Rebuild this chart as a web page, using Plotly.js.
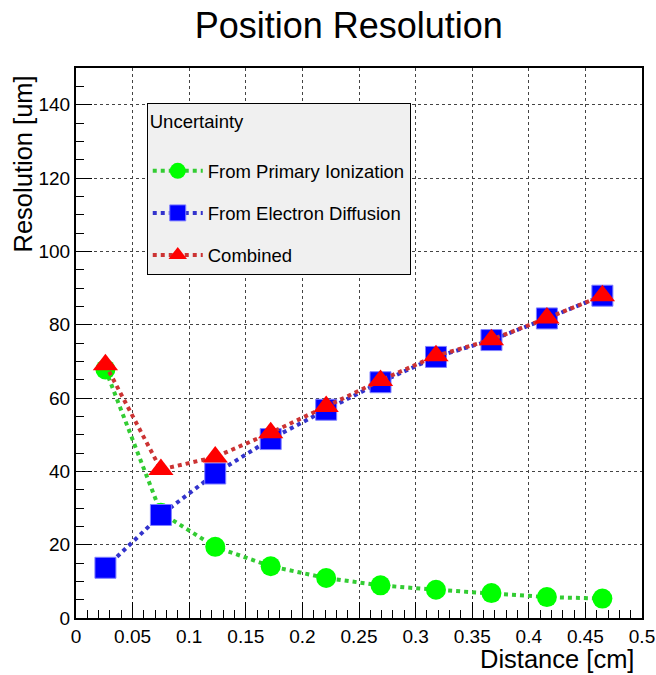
<!DOCTYPE html>
<html>
<head>
<meta charset="utf-8">
<script src="https://cdn.plot.ly/plotly-3.0.1.min.js"></script>
<style>html,body{margin:0;padding:0;background:#fff;}#chart{width:656px;height:675px;}</style>
</head>
<body>
<div id="chart"></div>
<script>
// Data
const distance = [0.026, 0.075, 0.123, 0.172, 0.221, 0.269, 0.318, 0.367, 0.416, 0.465];
const primaryIonization = [67.8, 28.7, 19.4, 14.1, 10.9, 8.9, 7.7, 6.8, 5.7, 5.3];
const electronDiffusion = [13.7, 28.1, 39.4, 48.8, 56.8, 64.3, 71.2, 75.8, 81.7, 87.9];
const combined = [69.1, 40.5, 43.9, 50.5, 57.7, 64.8, 71.5, 75.9, 81.8, 87.9];
const seriesNames = ["From Primary Ionization", "From Electron Diffusion", "Combined"];

const FONT = "Liberation Sans, Arial, Helvetica, sans-serif";

const traces = [
  {
    x: distance, y: primaryIonization, name: seriesNames[0], legendgroup: "a",
    mode: "lines+markers", type: "scatter",
    line: {color: "#33cc33", width: 4, dash: "dot"},
    marker: {symbol: "circle", size: 20, color: "#00ff00", line: {width: 0}}
  },
  {
    x: distance, y: electronDiffusion, name: seriesNames[1], legendgroup: "b",
    mode: "lines+markers", type: "scatter",
    line: {color: "#3333cc", width: 4, dash: "dot"},
    marker: {symbol: "square", size: 21, color: "#0000ff", line: {width: 1, color: "#8080ff"}}
  },
  {
    x: distance, y: combined, name: seriesNames[2], legendgroup: "c",
    mode: "lines+markers", type: "scatter",
    line: {color: "#cc3333", width: 4, dash: "dot"},
    marker: {symbol: "triangle-up", size: 22, color: "#ff0000", line: {width: 0}}
  }
];

const layout = {
  width: 656, height: 675,
  paper_bgcolor: "#ffffff", plot_bgcolor: "#ffffff",
  margin: {l: 76, r: 14, t: 68, b: 57, pad: 0},
  font: {family: FONT, size: 19, color: "#000"},
  showlegend: true,
  title: {
    text: "Position Resolution",
    font: {family: FONT, size: 36, color: "#000"},
    x: 0.482, xref: "paper", xanchor: "center",
    y: 0.962, yref: "container", yanchor: "middle"
  },
  xaxis: {
    range: [0, 0.5], tick0: 0, dtick: 0.05,
    ticks: "inside", ticklen: 16, tickwidth: 1, tickcolor: "#000",
    minor: {dtick: 0.01, ticks: "inside", ticklen: 8, tickcolor: "#000", tickwidth: 1, showgrid: false},
    showgrid: true, gridcolor: "#444", gridwidth: 1, griddash: "dot",
    showline: true, linecolor: "#000", linewidth: 2, mirror: true,
    zeroline: false, tickfont: {family: FONT, size: 19, color: "#000"},
    fixedrange: true
  },
  yaxis: {
    range: [0, 150], tick0: 0, dtick: 20,
    ticks: "inside", ticklen: 16, tickwidth: 1, tickcolor: "#000",
    minor: {dtick: 5, ticks: "inside", ticklen: 8, tickcolor: "#000", tickwidth: 1, showgrid: false},
    showgrid: true, gridcolor: "#444", gridwidth: 1, griddash: "dot",
    showline: true, linecolor: "#000", linewidth: 2, mirror: true,
    zeroline: false, tickfont: {family: FONT, size: 19, color: "#000"},
    fixedrange: true
  },
  legend: {
    x: 0.125, y: 0.936, xanchor: "left", yanchor: "top",
    bgcolor: "#f0f0f0", bordercolor: "#000", borderwidth: 1,
    font: {family: FONT, size: 18.5, color: "#000"},
    title: {text: "Uncertainty<br>&nbsp;", font: {family: FONT, size: 18.5, color: "#000"}},
    traceorder: "grouped", tracegroupgap: 15,
    itemwidth: 50
  },
  annotations: [
    {
      text: "Distance [cm]", xref: "paper", yref: "paper",
      x: 1, y: 0, xanchor: "right", yanchor: "top", yshift: -25, xshift: -6,
      showarrow: false, font: {family: FONT, size: 25.5, color: "#000"}
    },
    {
      text: "Resolution [um]", xref: "paper", yref: "paper",
      x: 0, y: 1, xanchor: "right", yanchor: "top", xshift: -38, yshift: -6,
      textangle: -90,
      showarrow: false, font: {family: FONT, size: 25.5, color: "#000"}
    }
  ]
};

Plotly.newPlot("chart", traces, layout, {displayModeBar: false, staticPlot: true});
</script>
</body>
</html>
